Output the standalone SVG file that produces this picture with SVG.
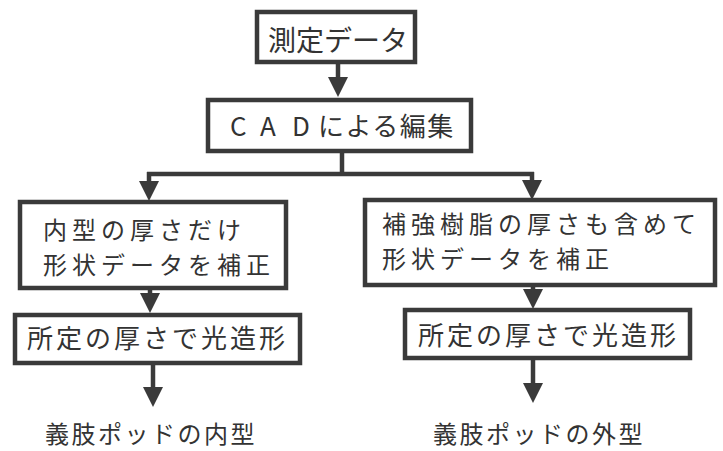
<svg xmlns="http://www.w3.org/2000/svg" width="723" height="451" viewBox="0 0 723 451">
<style>
.box{fill:#ffffff;stroke:#3a3a3a;stroke-width:4.5}
.ln{fill:none;stroke:#3a3a3a;stroke-width:4.5}
.t{font-family:"Noto Sans CJK JP","Noto Sans",sans-serif;font-size:26px;fill:#333333;letter-spacing:3px}
.t2{font-family:"Noto Sans CJK JP","Noto Sans",sans-serif;font-size:24px;fill:#333333;letter-spacing:5px}
.lb{font-family:"Noto Sans CJK JP","Noto Sans",sans-serif;font-size:24px;fill:#333333;letter-spacing:2.5px}
</style>
<defs>
<marker id="ah" markerUnits="userSpaceOnUse" viewBox="0 0 20 20" markerWidth="20" markerHeight="20" refX="6" refY="10" orient="auto">
<path d="M0,0 L20,10 L0,20 Z" fill="#3a3a3a"/>
</marker>
</defs>
<rect width="723" height="451" fill="#ffffff"/>
<g id="connectors">
<line class="ln" x1="338" y1="62" x2="338" y2="83" marker-end="url(#ah)"/>
<polyline class="ln" points="342,151 342,174"/>
<line class="ln" x1="147" y1="174" x2="534" y2="174"/>
<line class="ln" x1="149" y1="172" x2="149" y2="187" marker-end="url(#ah)"/>
<line class="ln" x1="532" y1="172" x2="532" y2="186" marker-end="url(#ah)"/>
<line class="ln" x1="150" y1="288" x2="150" y2="299" marker-end="url(#ah)"/>
<line class="ln" x1="533" y1="285" x2="533" y2="295" marker-end="url(#ah)"/>
<line class="ln" x1="153" y1="363" x2="153" y2="393" marker-end="url(#ah)"/>
<line class="ln" x1="533" y1="358" x2="533" y2="389" marker-end="url(#ah)"/>
</g>
<g id="n1">
<rect class="box" x="257" y="12" width="158" height="50"/>
<text class="t" x="268" y="51" style="font-size:28px;letter-spacing:0">測定データ</text>
</g>
<g id="n2">
<rect class="box" x="208" y="100" width="263" height="51"/>
<text class="t" y="136" style="letter-spacing:1.5px"><tspan x="230">C</tspan><tspan x="260">A</tspan><tspan x="292">D</tspan><tspan x="318">による編集</tspan></text>
</g>
<g id="n3">
<rect class="box" x="20" y="202" width="266" height="86"/>
<text class="t2"><tspan x="43" y="239">内型の厚さだけ</tspan><tspan x="43" y="274">形状データを補正</tspan></text>
</g>
<g id="n4">
<rect class="box" x="365" y="200" width="350" height="85"/>
<text class="t2"><tspan x="382" y="233">補強樹脂の厚さも含めて</tspan><tspan x="382" y="268">形状データを補正</tspan></text>
</g>
<g id="n5">
<rect class="box" x="15" y="315" width="285" height="48"/>
<text class="t" x="27" y="348">所定の厚さで光造形</text>
</g>
<g id="n6">
<rect class="box" x="405" y="310" width="285" height="48"/>
<text class="t" x="418" y="345">所定の厚さで光造形</text>
</g>
<g id="n7">
<text class="lb" x="45" y="443">義肢ポッドの内型</text>
</g>
<g id="n8">
<text class="lb" x="433" y="443">義肢ポッドの外型</text>
</g>
</svg>
